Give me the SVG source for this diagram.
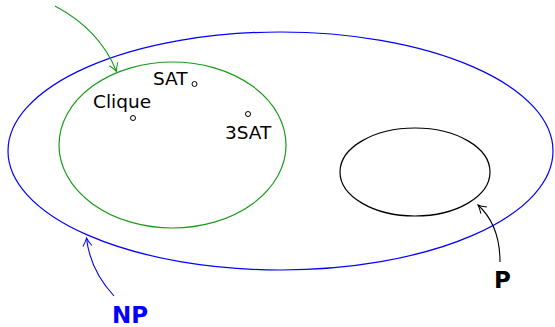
<svg xmlns="http://www.w3.org/2000/svg" width="555" height="327" viewBox="0 0 555 327">
  <style>
    .lbl { font-family: "DejaVu Sans", "Liberation Sans", sans-serif; font-size: 18.5px; fill: #000; }
    .big { font-family: "DejaVu Sans", "Liberation Sans", sans-serif; font-size: 23px; font-weight: bold; }
    .pt { fill: #fff; stroke: #000; stroke-width: 1; }
    .set { fill: none; stroke-width: 1.2; }
  </style>
  <defs>
    <marker id="headG" viewBox="-10 -6 12 12" markerWidth="12" markerHeight="12" refX="0" refY="0" orient="auto" markerUnits="userSpaceOnUse">
      <path d="M-8,-4.5 Q-3,-1 0,0 Q-3,1 -8,4.5" fill="none" stroke="#1a9a1a" stroke-width="1"/>
    </marker>
    <marker id="headB" viewBox="-10 -6 12 12" markerWidth="12" markerHeight="12" refX="0" refY="0" orient="auto" markerUnits="userSpaceOnUse">
      <path d="M-8,-4.5 Q-3,-1 0,0 Q-3,1 -8,4.5" fill="none" stroke="#0000ff" stroke-width="1"/>
    </marker>
    <marker id="headK" viewBox="-10 -6 12 12" markerWidth="12" markerHeight="12" refX="0" refY="0" orient="auto" markerUnits="userSpaceOnUse">
      <path d="M-8,-4.5 Q-3,-1 0,0 Q-3,1 -8,4.5" fill="none" stroke="#000" stroke-width="1"/>
    </marker>
  </defs>

  <g id="np">
    <ellipse class="set" cx="280.5" cy="151" rx="272.5" ry="119" stroke="#0000ff"/>
    <text class="big" x="112" y="323" fill="#0000ff">NP</text>
  </g>

  <g id="npc">
    <ellipse class="set" cx="172.5" cy="145" rx="113.5" ry="83" stroke="#1a9a1a"/>
  </g>

  <g id="p">
    <ellipse class="set" cx="415" cy="172" rx="75" ry="44" stroke="#000"/>
    <text class="big" x="494" y="288" fill="#000">P</text>
  </g>

  <g id="sat">
    <text class="lbl" x="153" y="85">SAT</text>
    <circle class="pt" cx="194.5" cy="84" r="2.5"/>
  </g>

  <g id="clique">
    <text class="lbl" x="93" y="108">Clique</text>
    <circle class="pt" cx="133" cy="118" r="2.5"/>
  </g>

  <g id="sat3">
    <text class="lbl" x="225" y="139">3SAT</text>
    <circle class="pt" cx="248" cy="114" r="2.5"/>
  </g>

  <g id="connectors" fill="none" stroke-width="1.1">
    <path d="M55,6 Q100,30 116.5,71.5" stroke="#1a9a1a" marker-end="url(#headG)"/>
    <path d="M114,296 Q90,270 86.5,238" stroke="#0000ff" marker-end="url(#headB)"/>
    <path d="M500,262 Q500,225 478,205" stroke="#000" marker-end="url(#headK)"/>
  </g>
</svg>
